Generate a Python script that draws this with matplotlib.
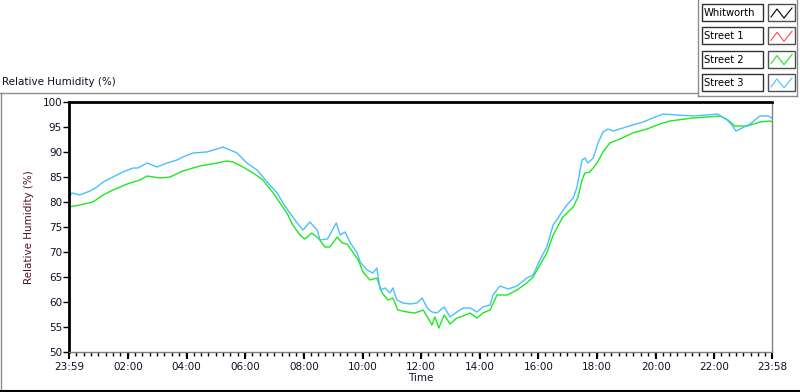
import matplotlib.pyplot as plt
from matplotlib.lines import Line2D
from matplotlib.patches import Rectangle

# time in minutes after midnight (first sample is 23:59 of the previous day)
t_street3 = [-1, 5, 21, 42, 56, 69, 89, 109, 130, 140, 159, 179, 200, 220, 232, 253,
             281, 302, 314, 329, 343, 363, 384, 396, 410, 425, 437, 451, 466, 478,
             492, 507, 513, 528, 546, 554, 564, 575, 589, 595, 609, 621, 629, 636,
             646, 656, 662, 670, 683, 697, 711, 722, 732, 742, 752, 767, 779, 793,
             806, 820, 834, 846, 861, 867, 881, 898, 916, 936, 949, 963, 977, 990,
             1004, 1018, 1031, 1039, 1049, 1055, 1061, 1072, 1082, 1092, 1102, 1113,
             1133, 1153, 1174, 1194, 1215, 1243, 1276, 1305, 1327, 1346, 1356, 1364,
             1377, 1393, 1413, 1430, 1438]
rh_street3 = [81.0, 81.8, 81.4, 82.2, 83.0, 84.0, 85.0, 86.0, 86.8, 86.8, 87.8, 87.0,
              87.8, 88.4, 89.0, 89.8, 90.0, 90.6, 91.0, 90.4, 89.8, 87.8, 86.4, 85.0,
              83.4, 81.8, 79.8, 77.8, 75.8, 74.4, 76.0, 74.4, 72.4, 72.6, 75.8, 73.4,
              74.0, 71.8, 69.8, 68.0, 66.4, 65.8, 66.8, 62.4, 62.8, 61.8, 62.8, 60.4,
              59.8, 59.6, 59.8, 60.8, 58.8, 58.0, 57.8, 59.0, 57.0, 58.0, 58.8, 58.8,
              58.0, 59.0, 59.4, 61.4, 63.2, 62.6, 63.2, 64.8, 65.4, 68.4, 71.0, 75.4,
              77.4, 79.4, 80.8, 83.0, 88.4, 88.8, 87.8, 88.8, 91.8, 94.0, 94.6, 94.2,
              94.8, 95.4, 96.0, 96.8, 97.6, 97.4, 97.2, 97.4, 97.6, 96.4, 95.4, 94.2,
              94.8, 95.6, 97.2, 97.2, 96.8]

t_street2 = [-1, 21, 48, 69, 89, 118, 144, 159, 185, 206, 232, 267, 302, 322, 335, 355,
             376, 396, 417, 431, 445, 457, 472, 482, 496, 509, 523, 533, 548, 558,
             568, 580, 591, 601, 615, 629, 640, 652, 662, 672, 691, 707, 724, 734,
             742, 748, 756, 767, 779, 793, 806, 820, 834, 846, 861, 875, 896, 916,
             936, 949, 963, 977, 990, 1010, 1031, 1041, 1049, 1055, 1065, 1080, 1092,
             1106, 1127, 1153, 1182, 1209, 1229, 1276, 1305, 1332, 1348, 1362, 1387,
             1413, 1434, 1438]
rh_street2 = [79.0, 79.4, 80.0, 81.4, 82.4, 83.6, 84.4, 85.2, 84.8, 85.0, 86.2, 87.2,
              87.8, 88.2, 88.0, 87.0, 85.8, 84.4, 81.8, 79.8, 77.8, 75.4, 73.4, 72.6,
              73.8, 72.8, 71.0, 71.0, 73.0, 71.8, 71.6, 70.0, 68.4, 66.0, 64.4, 64.8,
              61.8, 60.4, 60.8, 58.4, 58.0, 57.8, 58.4, 56.8, 55.4, 57.0, 54.8, 57.4,
              55.6, 56.8, 57.2, 57.8, 56.8, 57.8, 58.4, 61.4, 61.4, 62.4, 63.8, 65.0,
              67.4, 69.8, 73.4, 77.0, 79.0, 81.0, 84.4, 85.8, 86.0, 87.8, 90.0, 91.8,
              92.6, 93.8, 94.6, 95.6, 96.2, 96.8, 97.0, 97.2, 96.4, 95.2, 95.2, 96.0,
              96.2, 96.0]

series_names = ['Whitworth', 'Street 1', 'Street 2', 'Street 3']
series_colors = ['#000000', '#ff4848', '#1ee81e', '#48c0ff']

tick_minutes = [-1, 120, 240, 360, 480, 600, 720, 840, 960, 1080, 1200, 1320, 1438]
tick_labels = ['23:59', '02:00', '04:00', '06:00', '08:00', '10:00', '12:00',
               '14:00', '16:00', '18:00', '20:00', '22:00', '23:58']

W, H = 800, 392
fs = 7.5
txt_col = '#101028'

fig = plt.figure(figsize=(8, 3.92), dpi=100)
ax = fig.add_axes([69 / W, 1 - 352 / H, (772 - 69) / W, (352 - 102) / H])

ax.plot(t_street2, rh_street2, color=series_colors[2], lw=1.0)
ax.plot(t_street3, rh_street3, color=series_colors[3], lw=1.0)

ax.set_xlim(-1, 1438)
ax.set_ylim(50, 100)
ax.set_yticks(range(50, 101, 5))
ax.set_xticks(tick_minutes)
ax.set_xticklabels(tick_labels)
ax.set_xticks(range(14, 1438, 15), minor=True)
ax.tick_params(axis='y', length=4, width=1, pad=1, labelsize=fs, labelcolor=txt_col)
ax.tick_params(axis='x', which='major', length=5, width=1.5, pad=2, labelsize=fs, labelcolor=txt_col)
ax.tick_params(axis='x', which='minor', length=3, width=1)

ax.spines['top'].set_linewidth(2)
ax.spines['left'].set_linewidth(2)
ax.spines['right'].set_color('#808080')
ax.spines['bottom'].set_color('#808080')
ax.spines['right'].set_linewidth(1)
ax.spines['bottom'].set_linewidth(1)

ax.set_ylabel('Relative Humidity (%)', fontsize=fs, color='#50101c', labelpad=6)
ax.set_xlabel('Time', fontsize=fs, color=txt_col, labelpad=1)


def fx(x):
    return x / W


def fy(y):
    return 1 - y / H


fig.text(fx(2), fy(82), 'Relative Humidity (%)', fontsize=fs, color=txt_col,
         ha='left', va='center')

# panel frame lines
gray = '#8c8c8c'
fig.add_artist(Line2D([fx(0.5), fx(0.5)], [fy(93), fy(391)], color=gray, lw=1))
fig.add_artist(Line2D([fx(0), fx(698)], [fy(92.5), fy(92.5)], color=gray, lw=1))
fig.add_artist(Line2D([fx(698), fx(698)], [fy(0), fy(95.5)], color=gray, lw=1))
fig.add_artist(Line2D([fx(698), fx(797)], [fy(95.5), fy(95.5)], color=gray, lw=1))
fig.add_artist(Line2D([fx(797), fx(797)], [fy(0), fy(95.5)], color=gray, lw=1))
fig.add_artist(Line2D([fx(0), fx(800)], [fy(391), fy(391)], color='black', lw=1.5))

# legend
for i, (name, col) in enumerate(zip(series_names, series_colors)):
    top = 4 + 23.3 * i
    h = 17
    fig.add_artist(Rectangle((fx(702), fy(top + h)), (763 - 702) / W, h / H,
                             transform=fig.transFigure, facecolor='white',
                             edgecolor='#303030', lw=1))
    fig.text(fx(704), fy(top + h / 2 + 0.5), name, fontsize=7.2, color='black',
             ha='left', va='center')
    fig.add_artist(Rectangle((fx(768), fy(top + h)), (795 - 768) / W, h / H,
                             transform=fig.transFigure, facecolor='white',
                             edgecolor='#505050', lw=1))
    zx = [771, 777, 784, 792]
    zy = [top + 13, top + 5, top + 14, top + 4]
    fig.add_artist(Line2D([fx(v) for v in zx], [fy(v) for v in zy], color=col, lw=0.8))

fig.savefig('out.png', dpi=100)
